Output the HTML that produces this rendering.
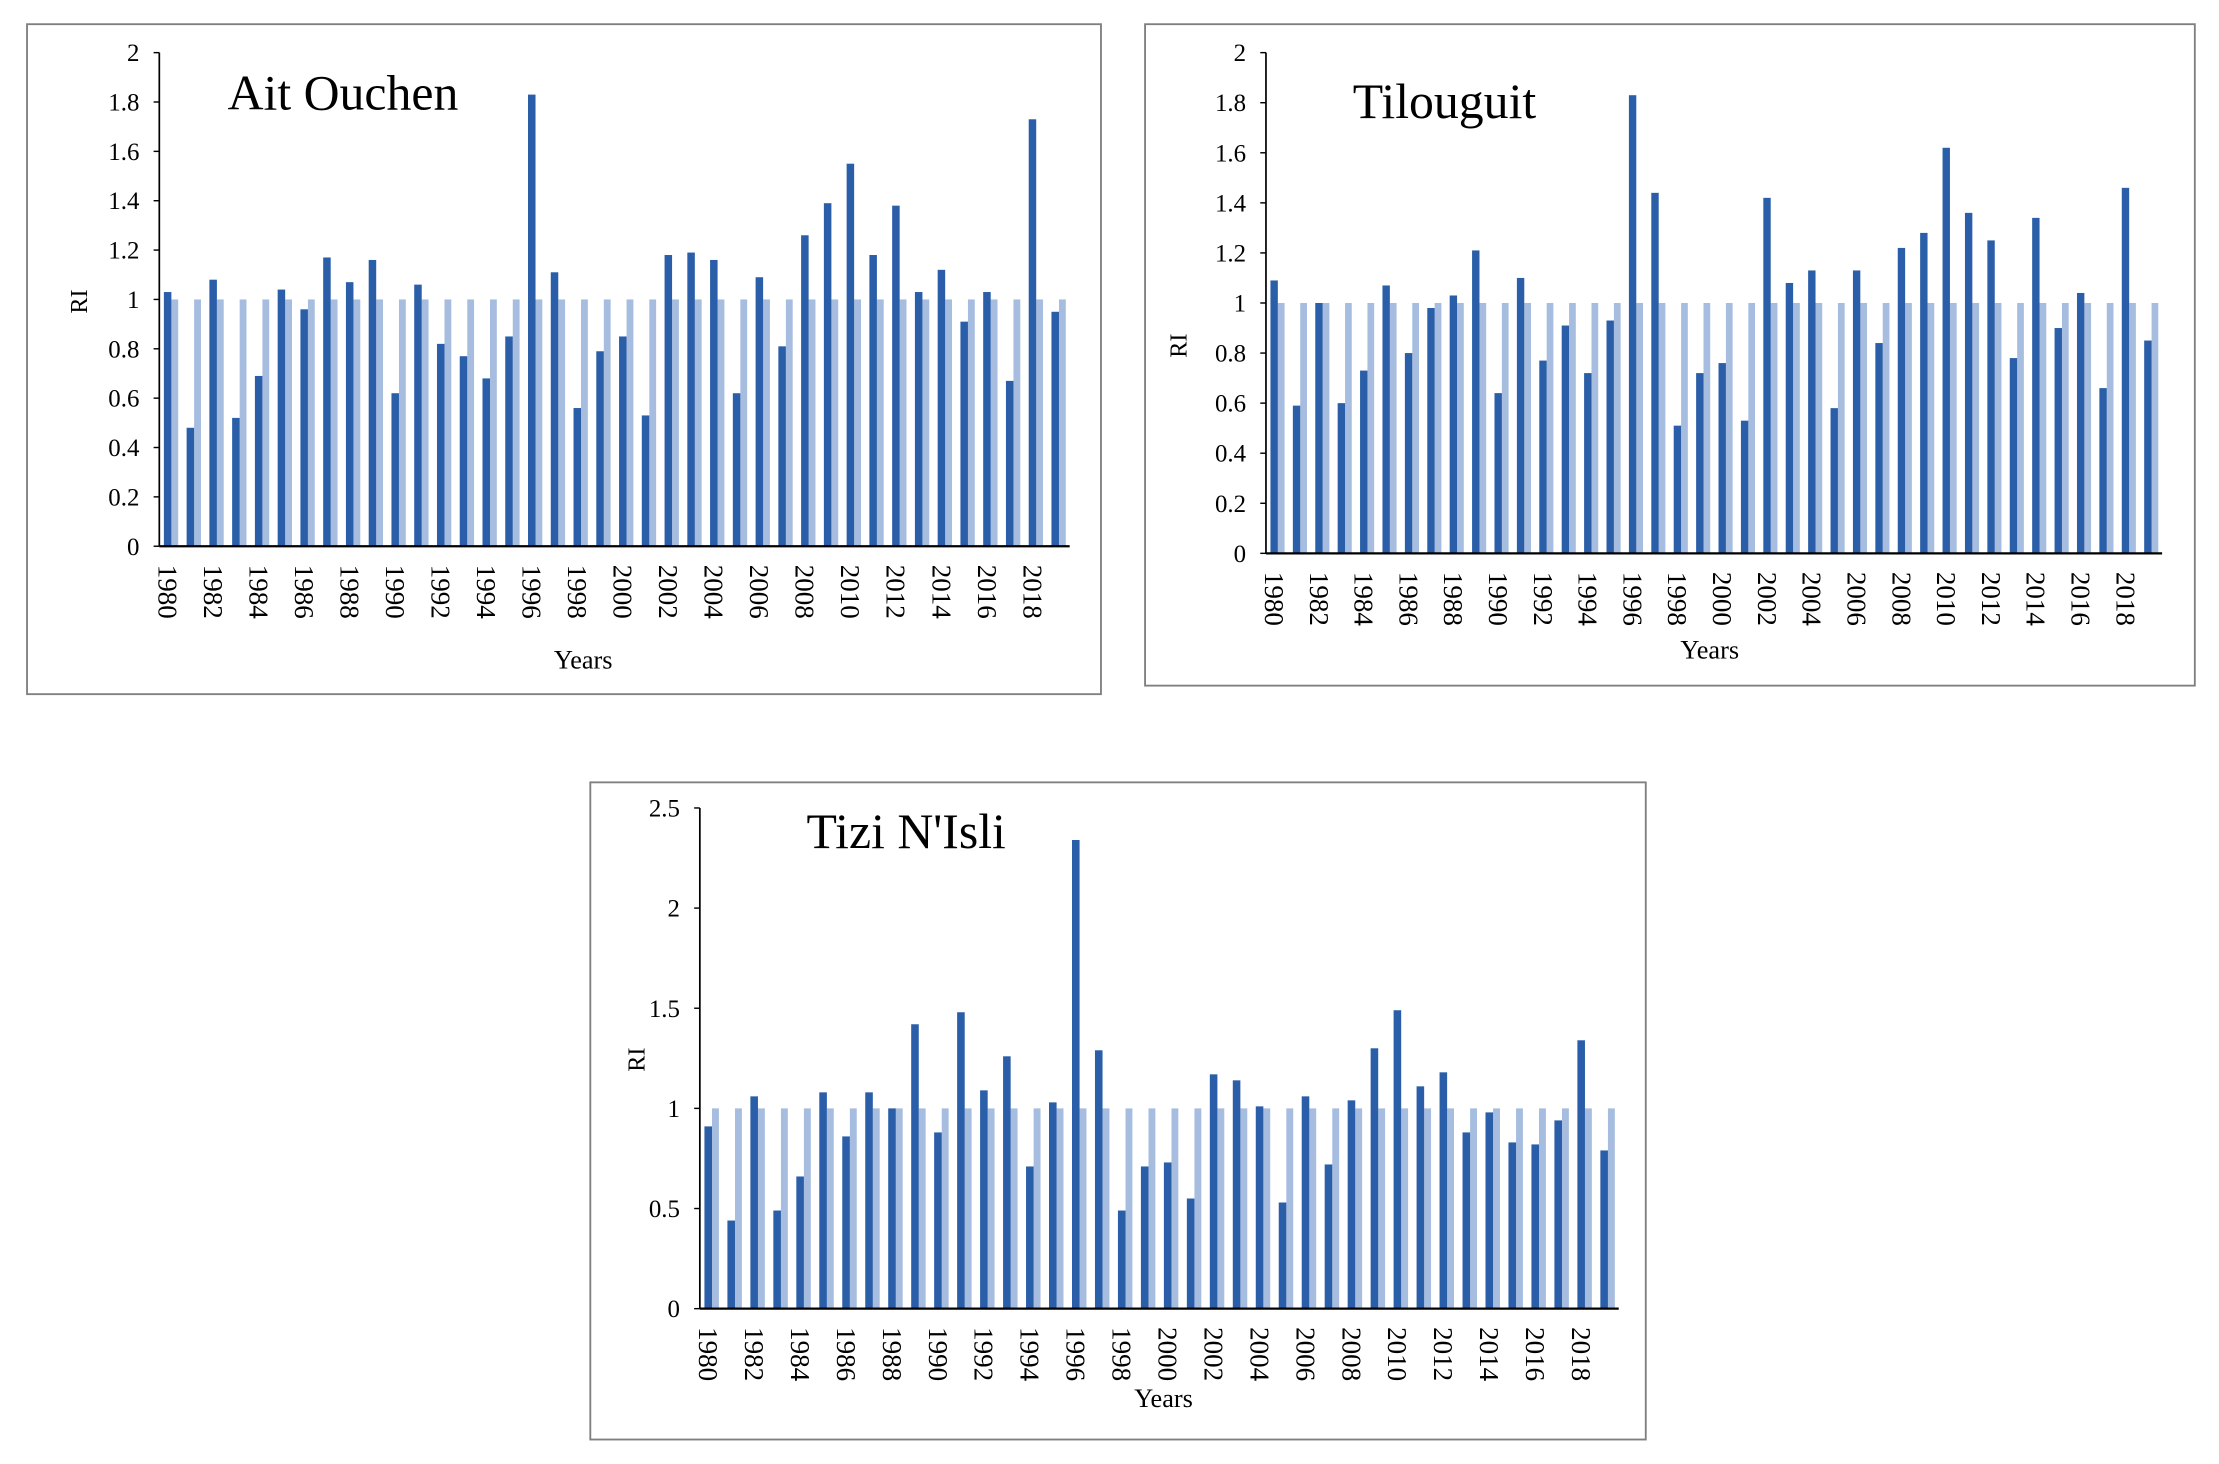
<!DOCTYPE html>
<html><head><meta charset="utf-8"><style>
html,body{margin:0;padding:0;background:#fff;}
svg{display:block;}
text{font-family:"Liberation Serif",serif;fill:#000;}
</style></head><body>
<svg id="s" width="2219" height="1464" viewBox="0 0 1560 1029.2" xmlns="http://www.w3.org/2000/svg"></svg>
<script>
const S=document.getElementById('s');
let h='';
function chart(c){
  h+=`<rect x="${c.bx}" y="${c.by}" width="${c.bw}" height="${c.bh}" fill="none" stroke="#7f7f7f" stroke-width="1.3"/>`;
  const per=(c.y0-c.yt)/c.max, gw=(c.x1-c.x0)/40;
  c.v.forEach((v,i)=>{
    const gx=c.x0+i*gw;
    h+=`<rect x="${gx+gw*0.53}" y="${c.y0-per}" width="${gw*0.3}" height="${per}" fill="#a6bde0"/>`;
    h+=`<rect x="${gx+gw*0.2}" y="${c.y0-v*per}" width="${gw*0.33}" height="${v*per}" fill="#2a5ea8"/>`;
    if(i%2==0){const lx=gx+gw*0.4-7;h+=`<text x="0" y="0" font-size="19" transform="translate(${lx},${c.y0+13}) rotate(90)">${1980+i}</text>`;}
  });
  h+=`<line x1="${c.x0}" y1="${c.yt}" x2="${c.x0}" y2="${c.y0}" stroke="#000" stroke-width="1.2"/>`;
  h+=`<line x1="${c.x0}" y1="${c.y0}" x2="${c.x1}" y2="${c.y0}" stroke="#000" stroke-width="1.6"/>`;
  c.ticks.forEach(t=>{const y=c.y0-t*per;
    h+=`<line x1="${c.x0-4}" y1="${y}" x2="${c.x0}" y2="${y}" stroke="#000" stroke-width="1"/>`;
    h+=`<text x="${c.x0-14}" y="${y+6}" font-size="17.5" text-anchor="end">${t}</text>`;});
  h+=`<text x="${c.tx}" y="${c.ty}" font-size="35">${c.title}</text>`;
  h+=`<text x="0" y="0" font-size="17" text-anchor="middle" transform="translate(${c.rx},${c.ry}) rotate(-90)">RI</text>`;
  h+=`<text x="${c.yx}" y="${c.yy}" font-size="18.5" text-anchor="middle">Years</text>`;
}
chart({bx:19,by:17,bw:755,bh:471,x0:112,x1:752,y0:384,yt:37,max:2,ticks:[0,0.2,0.4,0.6,0.8,1,1.2,1.4,1.6,1.8,2],
 title:"Ait Ouchen",tx:160,ty:77,rx:61,ry:212,yx:410,yy:470,
 v:[1.03,.48,1.08,.52,.69,1.04,.96,1.17,1.07,1.16,.62,1.06,.82,.77,.68,.85,1.83,1.11,.56,.79,.85,.53,1.18,1.19,1.16,.62,1.09,.81,1.26,1.39,1.55,1.18,1.38,1.03,1.12,.91,1.03,.67,1.73,.95]});
chart({bx:805,by:17,bw:738,bh:465,x0:890,x1:1520,y0:389,yt:37,max:2,ticks:[0,0.2,0.4,0.6,0.8,1,1.2,1.4,1.6,1.8,2],
 title:"Tilouguit",tx:951,ty:83,rx:834,ry:243,yx:1202,yy:463,
 v:[1.09,.59,1.0,.6,.73,1.07,.8,.98,1.03,1.21,.64,1.1,.77,.91,.72,.93,1.83,1.44,.51,.72,.76,.53,1.42,1.08,1.13,.58,1.13,.84,1.22,1.28,1.62,1.36,1.25,.78,1.34,.9,1.04,.66,1.46,.85]});
chart({bx:415,by:550,bw:742,bh:462,x0:492,x1:1138,y0:920,yt:568,max:2.5,ticks:[0,0.5,1,1.5,2,2.5],
 title:"Tizi N'Isli",tx:567,ty:596,rx:453,ry:745,yx:818,yy:989,
 v:[.91,.44,1.06,.49,.66,1.08,.86,1.08,1.0,1.42,.88,1.48,1.09,1.26,.71,1.03,2.34,1.29,.49,.71,.73,.55,1.17,1.14,1.01,.53,1.06,.72,1.04,1.30,1.49,1.11,1.18,.88,.98,.83,.82,.94,1.34,.79]});
S.innerHTML=h;
</script>
</body></html>
